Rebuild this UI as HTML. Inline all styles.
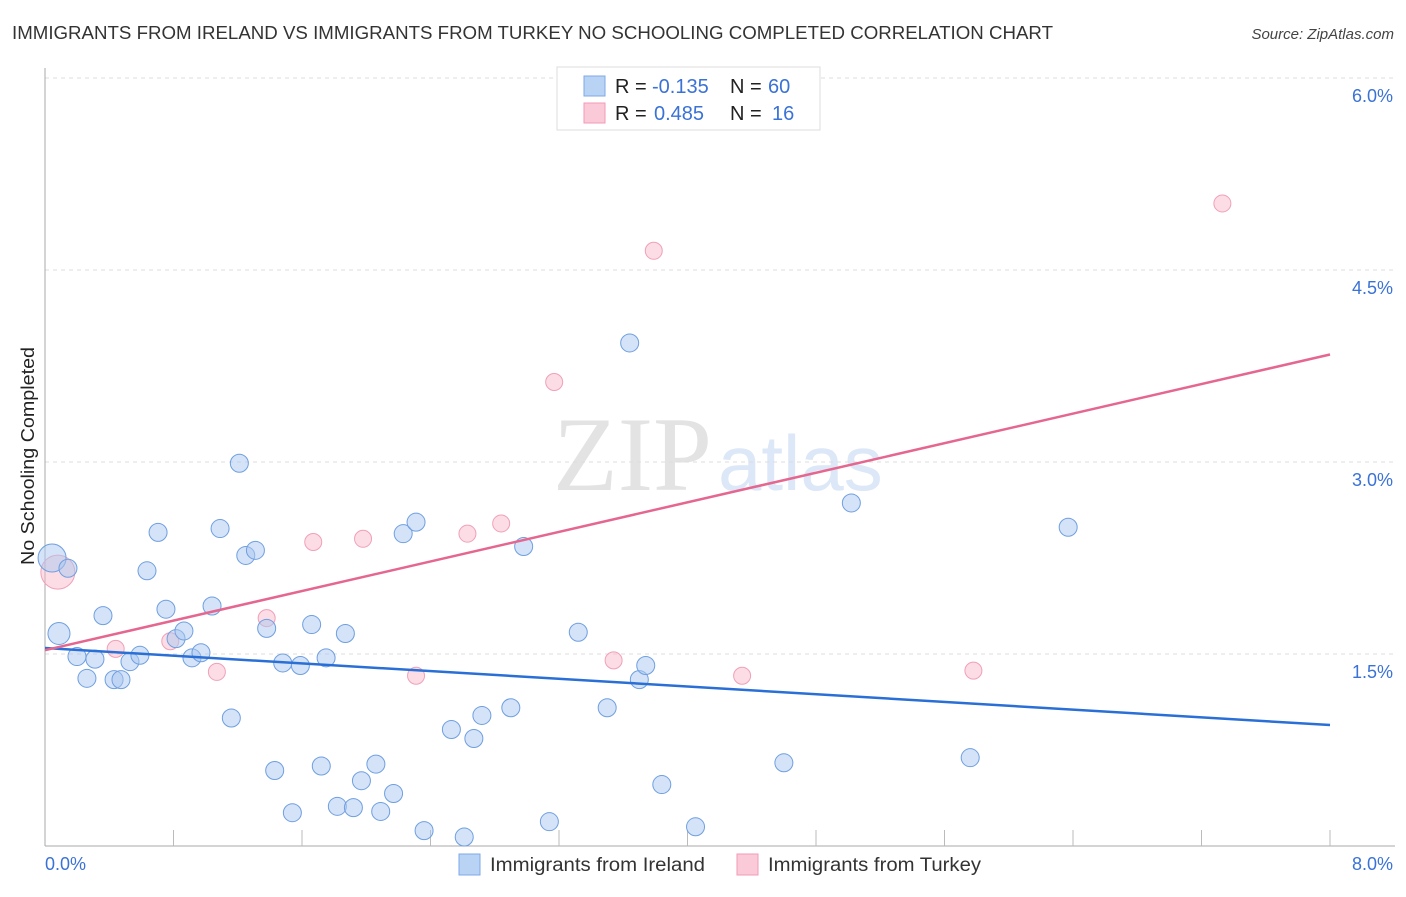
<!DOCTYPE html>
<html><head><meta charset="utf-8"><style>
html,body{margin:0;padding:0;background:#fff;}
body{width:1406px;height:892px;overflow:hidden;font-family:"Liberation Sans",sans-serif;}
</style></head><body>
<svg id="chart" width="1406" height="892" xmlns="http://www.w3.org/2000/svg" font-family="Liberation Sans, sans-serif">
<text x="12" y="39" font-size="18" fill="#333" textLength="1041" lengthAdjust="spacingAndGlyphs">IMMIGRANTS FROM IRELAND VS IMMIGRANTS FROM TURKEY NO SCHOOLING COMPLETED CORRELATION CHART</text>
<text x="1394" y="39" font-size="15" fill="#444" font-style="italic" text-anchor="end">Source: ZipAtlas.com</text>
<g>
<text x="553" y="490" font-family="Liberation Serif, serif" font-size="106" fill="#e3e3e3">ZIP</text>
<text x="718" y="490" font-size="78" fill="#dce7f7">atlas</text>
</g>
<g id="grid"></g>
<g id="axes"></g>
<g id="marks"></g>
<text transform="translate(34,456) rotate(-90)" font-size="18" fill="#222" text-anchor="middle" textLength="218" lengthAdjust="spacingAndGlyphs">No Schooling Completed</text>
<g>
<rect x="557" y="67" width="263" height="63" fill="#fff" stroke="#ddd"/>
<rect x="584" y="76" width="21" height="20" fill="#b9d3f5" stroke="#7eaae6"/>
<rect x="584" y="103" width="21" height="20" fill="#fbcad8" stroke="#f09ab4"/>
<text x="615" y="93" font-size="20" fill="#222">R = <tspan fill="#3a72d6" x="652">-0.135</tspan><tspan x="730">N = </tspan><tspan fill="#3a72d6" x="768">60</tspan></text>
<text x="615" y="120" font-size="20" fill="#222">R = <tspan fill="#3a72d6" x="654">0.485</tspan><tspan x="730">N = </tspan><tspan fill="#3a72d6" x="772">16</tspan></text>
</g>
<g>
<rect x="459" y="854" width="21" height="21" fill="#b9d3f5" stroke="#7eaae6"/>
<text x="490" y="871" font-size="19" fill="#333" textLength="215" lengthAdjust="spacingAndGlyphs">Immigrants from Ireland</text>
<rect x="737" y="854" width="21" height="21" fill="#fbcad8" stroke="#f09ab4"/>
<text x="768" y="871" font-size="19" fill="#333" textLength="213" lengthAdjust="spacingAndGlyphs">Immigrants from Turkey</text>
</g>
</svg>
<script>
const yTicks = [1.5, 3.0, 4.5, 6.0];
const yTickLabels = ["1.5%", "3.0%", "4.5%", "6.0%"];
const xTickCount = 10;
const xLabels = ["0.0%", "8.0%"];
const irelandX = [0.044,0.143,0.087,0.199,0.311,0.261,0.43,0.473,0.361,0.529,0.591,0.635,0.704,0.753,0.816,0.865,0.915,0.971,1.04,1.09,1.16,1.21,1.25,1.31,1.38,1.43,1.48,1.54,1.59,1.66,1.72,1.75,1.82,1.87,1.92,1.97,2.06,2.09,2.17,2.23,2.31,2.36,2.53,2.61,2.67,2.72,2.90,2.98,3.14,3.32,3.50,3.64,3.70,3.74,3.84,4.05,4.60,5.02,5.76,6.37];
const irelandY = [2.25,2.17,1.66,1.48,1.46,1.31,1.30,1.30,1.80,1.44,1.49,2.15,2.45,1.85,1.62,1.68,1.47,1.51,1.875,2.48,1.00,2.99,2.27,2.31,1.70,0.59,1.43,0.26,1.41,1.73,0.625,1.47,0.31,1.66,0.30,0.51,0.64,0.27,0.41,2.44,2.53,0.12,0.91,0.07,0.84,1.02,1.08,2.34,0.19,1.67,1.08,3.93,1.30,1.41,0.48,0.15,0.65,2.68,0.69,2.49];
const irelandSize = [14,9,11];
const turkeyX = [0.08,0.44,0.78,1.07,1.38,1.67,1.98,2.31,2.63,2.84,3.17,3.54,3.79,4.34,5.78,7.33];
const turkeyY = [2.14,1.54,1.60,1.36,1.78,2.375,2.40,1.33,2.44,2.52,3.625,1.45,4.65,1.33,1.37,5.02];
const turkeySize = [17];
const irelandTrend = [1.547, 0.945];
const turkeyTrend = [1.53, 3.84];

const NS = "http://www.w3.org/2000/svg";
const X0 = 45, X1 = 1330, Y0 = 846, PXPER = 128;
const sx = v => X0 + v / 8 * (X1 - X0);
const sy = v => Y0 - v * PXPER;
function mk(tag, attrs, parent) {
  const e = document.createElementNS(NS, tag);
  for (const k in attrs) e.setAttribute(k, attrs[k]);
  parent.appendChild(e);
  return e;
}
const grid = document.getElementById("grid");
const axes = document.getElementById("axes");
const marks = document.getElementById("marks");
yTicks.forEach((t, i) => {
  const l = mk("line", {x1: X0, x2: 1395, y1: sy(t), y2: sy(t), stroke: "#ddd", "stroke-dasharray": "4,4"}, grid);
  
  
  const tx = mk("text", {x: 1393, y: sy(t) + 24, "font-size": 18, fill: "#3a72d6", "text-anchor": "end"}, axes);
  tx.textContent = yTickLabels[i];
  
  
});
const ya = mk("line", {x1: X0, x2: X0, y1: 68, y2: Y0, stroke: "#aaa"}, axes);


const xa = mk("line", {x1: X0, x2: 1395, y1: Y0, y2: Y0, stroke: "#aaa"}, axes);


for (let i = 1; i <= xTickCount; i++) {
  const x = sx(i * 8 / xTickCount);
  const tk = mk("line", {x1: x, x2: x, y1: 830, y2: Y0, stroke: "#bbb"}, axes);
  
  
}
const xl0 = mk("text", {x: 45, y: 870, "font-size": 18, fill: "#3a72d6"}, axes);
xl0.textContent = xLabels[0];


const xl1 = mk("text", {x: 1393, y: 870, "font-size": 18, fill: "#3a72d6", "text-anchor": "end"}, axes);
xl1.textContent = xLabels[1];



turkeyX.forEach((v, i) => {
  const c = mk("circle", {cx: sx(v), cy: sy(turkeyY[i]), r: turkeySize[i] || 8.5, fill: "rgba(248,180,200,0.45)", stroke: "#f0a0b8", "stroke-width": 1}, marks);
  
  
});
irelandX.forEach((v, i) => {
  const c = mk("circle", {cx: sx(v), cy: sy(irelandY[i]), r: irelandSize[i] || 9, fill: "rgba(170,200,240,0.5)", stroke: "#6f9fe0", "stroke-width": 1}, marks);
  
  
});
const tb = mk("line", {x1: sx(0), x2: sx(8), y1: sy(irelandTrend[0]), y2: sy(irelandTrend[1]), stroke: "#2a6fd6", "stroke-width": 2.5}, marks);


const tp = mk("line", {x1: sx(0), x2: sx(8), y1: sy(turkeyTrend[0]), y2: sy(turkeyTrend[1]), stroke: "#e5668f", "stroke-width": 2.5}, marks);


</script>
</body></html>
